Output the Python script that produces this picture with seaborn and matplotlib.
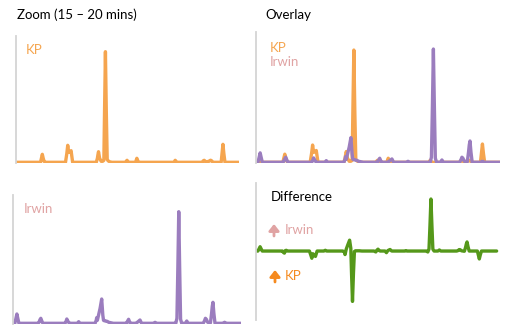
import numpy as np
import seaborn as sns
import matplotlib.pyplot as plt

# retention time (min) and detector response for the two samples
time = [15.00, 15.04, 15.065, 15.085, 15.105, 15.13, 15.55, 15.57, 15.59, 15.61,
        15.63, 15.655, 16.11, 16.14, 16.16, 16.18, 16.205, 16.235, 16.27, 16.41,
        16.44, 16.47, 16.80, 16.825, 16.835, 16.85, 16.875, 16.91, 16.945, 16.97,
        16.985, 17.005, 17.025, 17.045, 17.065, 17.10, 17.15, 17.20, 17.45, 17.49,
        17.51, 17.535, 17.56, 17.58, 17.68, 17.71, 17.74, 17.785, 17.82, 18.09,
        18.115, 18.14, 18.54, 18.57, 18.595, 18.615, 18.635, 18.655, 18.675, 18.70,
        18.78, 18.81, 18.84, 19.17, 19.20, 19.22, 19.24, 19.27, 19.33, 19.355,
        19.37, 19.385, 19.405, 19.43, 19.60, 19.62, 19.64, 19.66, 19.685, 20.00]
kp = [0, 0, 0, 0, 0, 0, 0, 4, 8, 4,
      1, 0, 0, 9, 17, 10, 10, 11.6, 0, 0,
      0, 0, 0, 4, 7, 10.6, 4, 1, 1, 2,
      50, 110.6, 50, 3, 1.5, 0.5, 0, 0, 0, 2,
      0.5, 0, 0, 0, 0, 4, 0.5, 0, 0, 0,
      0, 0, 0, 2, 0.5, 0, 0, 0, 0, 0,
      0, 0, 0, 0, 1.5, 2, 1, 0.5, 1, 2,
      2, 1.5, 0.5, 0, 0, 9, 18, 9, 0, 0]
irwin = [0, 0, 5, 9.3, 5, 0, 0, 1, 3.5, 5,
         2.5, 0, 0, 0, 1.5, 4.3, 2, 0, 0, 0,
         1.6, 0, 0, 3, 5.6, 3, 8, 15, 24.3, 8,
         3, 2.5, 2.5, 2, 2, 1, 0.5, 0, 0, 0,
         2, 4, 1, 0, 0, 0.5, 1.5, 3.3, 0, 0,
         1, 0, 0, 0, 5, 55, 111.6, 55, 4, 0,
         0, 2.3, 0, 0, 2.5, 5, 4, 1, 0.5, 10,
         17, 21, 10, 0, 0, 0.5, 1, 0.5, 0, 0]
diff = np.array(irwin) - np.array(kp)

KP_COLOR = "#F5A54F"
IRWIN_COLOR = "#9B7DBE"
IRWIN_TEXT = "#E0A3A3"
KP_ARROW = "#F58A1F"
DIFF_COLOR = "#55981A"
LW = 2.4

W, H = 505, 329

sns.set_style("white")
plt.rcParams["font.family"] = ["Lato", "DejaVu Sans"]

fig = plt.figure(figsize=(W / 100, H / 100), dpi=100)


def px_axes(left, top, right, bottom):
    # place an axes using pixel positions of the original picture
    ax = fig.add_axes([left / W, 1 - bottom / H, (right - left) / W, (bottom - top) / H])
    for side in ["top", "right", "bottom"]:
        ax.spines[side].set_visible(False)
    ax.spines["left"].set_color("#d4d4d4")
    ax.spines["left"].set_linewidth(1.3)
    ax.set_xticks([])
    ax.set_yticks([])
    return ax


def px_text(x, y, s, color="black", size=9.5, **kw):
    fig.text(x / W, 1 - y / H, s, color=color, fontsize=size, va="center", ha="left", **kw)


def px_arrow(x, y, color):
    # thick upward arrow drawn in figure pixels
    fig.add_artist(plt.matplotlib.patches.FancyArrowPatch(
        (x / W, 1 - (y + 6) / H), (x / W, 1 - (y - 6) / H),
        transform=fig.transFigure, arrowstyle="-|>,head_length=2.4,head_width=1.9",
        color=color, lw=2.0, mutation_scale=1.6, shrinkA=0, shrinkB=0))


# top left: KP only
ax1 = px_axes(16, 36, 239, 163)
sns.lineplot(x=time, y=kp, ax=ax1, color=KP_COLOR, lw=LW)
ax1.set_xlim(15, 20)
ax1.set_ylim(-0.7, 126.3)

# top right: overlay
ax2 = px_axes(256, 32, 500, 163)
sns.lineplot(x=time, y=kp, ax=ax2, color=KP_COLOR, lw=LW)
sns.lineplot(x=time, y=irwin, ax=ax2, color=IRWIN_COLOR, lw=LW)
ax2.set_xlim(15, 20)
ax2.set_ylim(-0.7, 128.4)

# bottom left: Irwin only
ax3 = px_axes(13, 195, 241, 324)
sns.lineplot(x=time, y=irwin, ax=ax3, color=IRWIN_COLOR, lw=LW)
ax3.set_xlim(15, 20)
ax3.set_ylim(-0.7, 128.3)

# bottom right: difference
ax4 = px_axes(256, 183, 500, 320)
sns.lineplot(x=time, y=diff, ax=ax4, color=DIFF_COLOR, lw=LW)
ax4.set_xlim(15, 20.07)
ax4.set_ylim(-148, 146)

for ax in [ax1, ax2, ax3, ax4]:
    ax.set_xlabel("")
    ax.set_ylabel("")

px_text(17, 15, "Zoom (15 \u2013 20 mins)")
px_text(265, 15, "Overlay")
px_text(271, 197, "Difference")
px_text(26, 50, "KP", color=KP_COLOR)
px_text(270, 48, "KP", color=KP_COLOR)
px_text(270, 62, "Irwin", color=IRWIN_TEXT)
px_text(24, 209, "Irwin", color=IRWIN_TEXT)
px_arrow(274, 230, IRWIN_TEXT)
px_text(285, 230, "Irwin", color=IRWIN_TEXT)
px_arrow(275, 276, KP_ARROW)
px_text(285, 276, "KP", color=KP_ARROW)

fig.savefig("out.png", dpi=100)
